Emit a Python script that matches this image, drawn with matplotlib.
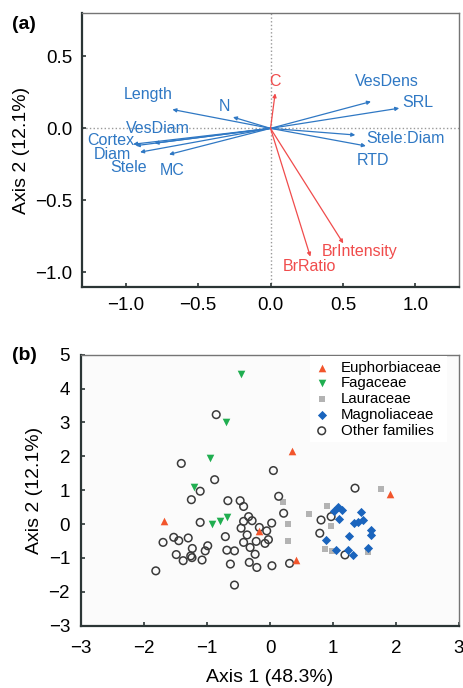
import numpy as np
import matplotlib.pyplot as plt

plt.rcParams['font.family'] = ['Liberation Sans', 'DejaVu Sans']

# --- panel (a): loadings ---
trait_names = ['Length', 'N', 'VesDiam', 'Cortex', 'Diam', 'Stele', 'MC',
               'VesDens', 'SRL', 'Stele:Diam', 'RTD', 'C', 'BrIntensity', 'BrRatio']
trait_x = [-0.677, -0.259, -0.80, -0.948, -0.90, -0.93, -0.70,
           0.693, 0.888, 0.585, 0.658, 0.032, 0.502, 0.275]
trait_y = [0.131, 0.078, -0.103, -0.110, -0.165, -0.120, -0.181,
           0.186, 0.140, -0.046, -0.122, 0.243, -0.798, -0.89]
label_x = [-0.844, -0.317, -0.775, -1.10, -1.09, -0.98, -0.677,
           0.803, 1.014, 0.933, 0.704, 0.034, 0.617, 0.268]
label_y = [0.232, 0.151, 0.0, -0.083, -0.179, -0.271, -0.289,
           0.323, 0.181, -0.067, -0.22, 0.323, -0.856, -0.959]
trait_group = ['root'] * 11 + ['branch'] * 3

# --- panel (b): scores ---
euph_x = [-1.69, 0.343, 1.90, 0.417, -0.18]
euph_y = [0.10, 2.15, 0.89, -1.05, -0.20]
faga_x = [-0.46, -0.70, -0.95, -1.21, -0.92, -0.80, -0.69]
faga_y = [4.43, 3.02, 1.94, 1.10, -0.01, 0.10, 0.22]
laur_x = [1.757, 0.20, 0.28, 0.29, 0.62, 0.91, 0.97, 0.87, 0.99, 1.55]
laur_y = [1.05, 0.64, 0.0, -0.51, 0.30, 0.52, -0.07, -0.74, -0.79, -0.82]
magn_x = [1.008, 1.08, 1.15, 1.09, 1.45, 1.335, 1.39, 1.47, 1.60, 1.61,
          1.256, 0.89, 1.045, 1.24, 1.32, 1.55]
magn_y = [0.39, 0.51, 0.43, 0.15, 0.36, 0.02, 0.05, 0.12, -0.18, -0.33,
          -0.36, -0.47, -0.77, -0.77, -0.92, -0.71]
other_x = [-0.855, -1.41, -0.88, 0.053, -1.11, -1.25, -0.67, -0.475, -0.42, 0.137,
           0.216, 1.35, -1.11, -0.34, -0.285, -0.42, -0.46, 0.026, -0.17, -0.053,
           -0.364, -0.71, -0.42, -0.22, -0.08, -0.026, -0.317, -0.237, -0.33, -0.21,
           -0.63, -0.686, -0.565, -0.565, 0.03, 0.31, -0.99, -1.03, -1.08, -1.235,
           -1.26, -1.24, -1.30, -1.45, -1.53, -1.70, -1.49, -1.38, -1.815, 0.81,
           0.97, 0.79, 1.19]
other_y = [3.23, 1.79, 1.31, 1.58, 0.97, 0.72, 0.69, 0.69, 0.52, 0.82,
           0.32, 1.06, 0.05, 0.22, 0.10, 0.08, -0.12, 0.03, -0.10, -0.20,
           -0.32, -0.37, -0.54, -0.51, -0.57, -0.46, -0.69, -0.89, -1.13, -1.28,
           -1.18, -0.77, -0.79, -1.80, -1.23, -1.16, -0.64, -0.79, -1.06, -0.72,
           -0.94, -0.99, -0.41, -0.49, -0.39, -0.54, -0.90, -1.08, -1.38, 0.12,
           0.22, -0.27, -0.91]

BLUE = '#2f78c4'
RED = '#f04c4c'


def style_axes(ax, xpad=5, ypad=6):
    for side in ['left', 'bottom']:
        ax.spines[side].set_linewidth(1.6)
        ax.spines[side].set_color('#2b3535')
    for side in ['top', 'right']:
        ax.spines[side].set_linewidth(1.0)
        ax.spines[side].set_color('#757575')
    ax.tick_params(direction='in', length=3, width=1.2, labelsize=13.5,
                   color='#2b3535', top=False, right=False)
    ax.tick_params(axis='x', pad=xpad)
    ax.tick_params(axis='y', pad=ypad)


fig = plt.figure(figsize=(4.64, 6.88), dpi=100)

# (a)
ax1 = fig.add_axes([0.177, 0.583, 0.812, 0.398])
ax1.axhline(0, color='#999999', ls=':', lw=1.0, zorder=0)
ax1.axvline(0, color='#999999', ls=':', lw=1.0, zorder=0)
for name, x, y, lx, ly, g in zip(trait_names, trait_x, trait_y, label_x, label_y, trait_group):
    col = BLUE if g == 'root' else RED
    ax1.annotate('', xy=(x, y), xytext=(0, 0),
                 arrowprops=dict(arrowstyle='-|>', color=col, lw=0.9,
                                 mutation_scale=5.5, shrinkA=0, shrinkB=0))
    ax1.text(lx, ly, name, color=col, fontsize=11.5, ha='center', va='center')
ax1.set_xlim(-1.3, 1.3)
ax1.set_ylim(-1.1, 0.8)
ax1.set_xticks([-1.0, -0.5, 0.0, 0.5, 1.0])
ax1.set_yticks([-1.0, -0.5, 0.0, 0.5])
ax1.set_xticklabels(['\u22121.0', '\u22120.5', '0.0', '0.5', '1.0'])
ax1.set_yticklabels(['\u22121.0', '\u22120.5', '0.0', '0.5'])
ax1.set_ylabel('Axis 2 (12.1%)', fontsize=14, labelpad=4)
style_axes(ax1, xpad=7, ypad=7)
fig.text(0.025, 0.965, '(a)', fontsize=14, fontweight='bold', va='center')

# (b)
ax2 = fig.add_axes([0.175, 0.0905, 0.814, 0.394])
ax2.set_facecolor('#fbfbfb')
ax2.scatter(euph_x, euph_y, marker='^', s=30, color='#f2552c', lw=0, label='Euphorbiaceae', zorder=3)
ax2.scatter(faga_x, faga_y, marker='v', s=30, color='#20ae50', lw=0, label='Fagaceae', zorder=3)
ax2.scatter(laur_x, laur_y, marker='s', s=24, color='#b3b3b3', lw=0, label='Lauraceae', zorder=2)
ax2.scatter(magn_x, magn_y, marker='D', s=22, color='#1a64bd', lw=0, label='Magnoliaceae', zorder=3)
ax2.scatter(other_x, other_y, marker='o', s=30, facecolor='none', edgecolor='#3a3a3a',
            lw=1.1, label='Other families', zorder=2)
ax2.set_xlim(-3, 3)
ax2.set_ylim(-3, 5)
ax2.set_xticks(range(-3, 4))
ax2.set_yticks(range(-3, 6))
ax2.set_xticklabels(['\u22123', '\u22122', '\u22121', '0', '1', '2', '3'])
ax2.set_yticklabels(['\u22123', '\u22122', '\u22121', '0', '1', '2', '3', '4', '5'])
ax2.set_xlabel('Axis 1 (48.3%)', fontsize=14, labelpad=9)
ax2.set_ylabel('Axis 2 (12.1%)', fontsize=14, labelpad=4)
style_axes(ax2, xpad=10, ypad=8)
leg = ax2.legend(loc='upper left', bbox_to_anchor=(0.605, 0.995), borderaxespad=0,
                 fontsize=10.8, handlelength=1.0, handletextpad=0.8, labelspacing=0.12,
                 borderpad=0.3, frameon=True, fancybox=False)
leg.get_frame().set_facecolor('white')
leg.get_frame().set_edgecolor('none')
leg.get_frame().set_alpha(1)
fig.text(0.025, 0.483, '(b)', fontsize=14, fontweight='bold', va='center')

fig.savefig('out.png', dpi=100)
